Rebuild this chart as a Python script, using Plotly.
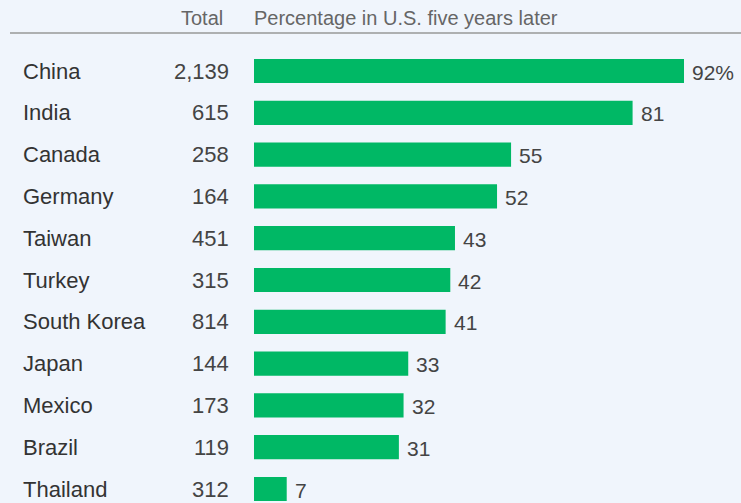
import plotly.graph_objects as go

countries = ["China", "India", "Canada", "Germany", "Taiwan", "Turkey",
             "South Korea", "Japan", "Mexico", "Brazil", "Thailand"]
totals = ["2,139", "615", "258", "164", "451", "315", "814", "144", "173", "119", "312"]
pct = [92, 81, 55, 52, 43, 42, 41, 33, 32, 31, 7]
pct_labels = ["92%"] + [str(v) for v in pct[1:]]

W, H = 741, 503
BG = "#f0f5fc"
GREEN = "#00b865"
FONT = "Liberation Sans"

px_per_unit = (684 - 254) / 92.0
x0 = -254 / px_per_unit
x1 = (W - 254) / px_per_unit
row = 41.8
y_top = -71 / row
y_bot = (H - 71) / row

fig = go.Figure()
fig.add_trace(go.Bar(
    x=pct, y=countries, orientation="h",
    marker=dict(color=GREEN, line=dict(width=0)),
    width=0.58,
    hoverinfo="skip",
))

annotations = []
for c, t, v, lab in zip(countries, totals, pct, pct_labels):
    annotations.append(dict(x=21 / W, xref="paper", y=c, yref="y", text=c,
                            showarrow=False, xanchor="left", yanchor="middle",
                            font=dict(family=FONT, size=22, color="#333333")))
    annotations.append(dict(x=231 / W, xref="paper", y=c, yref="y", text=t,
                            showarrow=False, xanchor="right", yanchor="middle",
                            font=dict(family=FONT, size=22, color="#444444")))
    annotations.append(dict(x=v, xref="x", y=c, yref="y", text=lab, xshift=6, yshift=-1,
                            showarrow=False, xanchor="left", yanchor="middle",
                            font=dict(family=FONT, size=21, color="#444444")))
annotations.append(dict(x=225 / W, xref="paper", y=1 - 18 / H, yref="paper", text="Total",
                        showarrow=False, xanchor="right", yanchor="middle",
                        font=dict(family=FONT, size=20, color="#666666")))
annotations.append(dict(x=252 / W, xref="paper", y=1 - 18 / H, yref="paper",
                        text="Percentage in U.S. five years later",
                        showarrow=False, xanchor="left", yanchor="middle",
                        font=dict(family=FONT, size=20, color="#666666")))

fig.update_layout(
    width=W, height=H,
    margin=dict(l=0, r=0, t=0, b=0),
    paper_bgcolor=BG, plot_bgcolor=BG,
    showlegend=False,
    xaxis=dict(range=[x0, x1], visible=False, fixedrange=True),
    yaxis=dict(range=[y_bot, y_top], visible=False, categoryorder="array",
               categoryarray=countries, fixedrange=True),
    annotations=annotations,
    shapes=[dict(type="line", xref="paper", yref="paper",
                 x0=10 / W, x1=1, y0=1 - 33 / H, y1=1 - 33 / H,
                 line=dict(color="#999999", width=1.5))],
)

fig.write_html("out.html", config={"displayModeBar": False},
               post_script="document.body.style.margin='0';document.body.style.background='" + BG + "';")
